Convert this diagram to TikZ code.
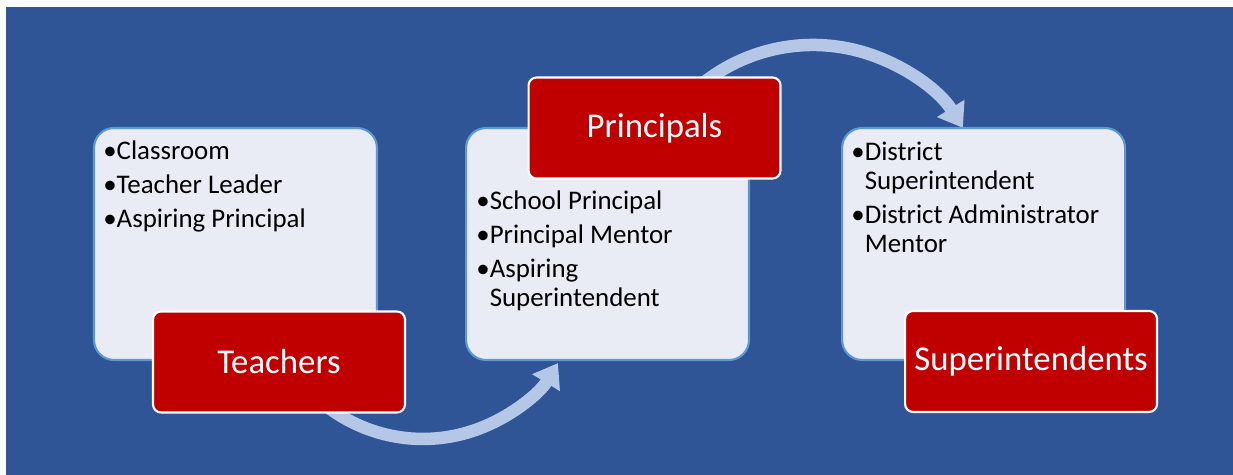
\documentclass[tikz,border=0pt]{standalone}
\usepackage{fontspec}
\setmainfont{Carlito}
\usetikzlibrary{arrows.meta,positioning}
\definecolor{bgblue}{RGB}{47,85,151}
\definecolor{boxfill}{RGB}{233,235,245}
\definecolor{boxline}{RGB}{91,155,213}
\definecolor{tagred}{RGB}{192,0,0}
\definecolor{flowblue}{RGB}{180,199,231}

\begin{document}
\begin{tikzpicture}[x=0.02cm, y=0.02cm, >={Triangle[width=0.62cm 0, length=0.46cm 0]}]
    \tikzset{stage/.style={
      draw=boxline,
      fill=boxfill,
      line width=1.2pt,
      rounded corners=0.4cm,
      minimum width=5.66cm,
      minimum height=4.64cm
    }};
    \tikzset{tag/.style={
      draw=white,
      fill=tagred,
      line width=1.2pt,
      rounded corners=0.16cm,
      text=white,
      font=\fontsize{19.8}{23}\selectfont,
      minimum width=5.04cm,
      minimum height=2.02cm
    }};
    \tikzset{list/.style={
      align=left,
      inner sep=0pt,
      font=\fontsize{15.3}{16.5}\selectfont
    }};
    \tikzset{flow/.style={
      draw=flowblue,
      line width=0.25cm,
      ->
    }};

    \useasboundingbox (0,0) rectangle (1233,475);
    \fill[bgblue] (6,0) rectangle (1233,468);

    \coordinate (lowstart) at (321.4,73);
    \coordinate (highstart) at (687.8,378.2);
    \draw[flow] (lowstart) arc[start angle=230, end angle=328.7, radius=158];
    \draw[flow] (highstart) arc[start angle=135, end angle=32.1, radius=177];

    \node [stage] (teachbox) at (235.5,231) {};
    \node [stage, right=1.74cm of teachbox] (princbox) {};
    \node [stage, right=1.82cm of princbox] (supbox) {};

    \node [tag] (teach) at ([xshift=0.87cm, yshift=-2.36cm]teachbox.center) {Teachers};
    \node [tag] (princ) at ([xshift=0.94cm, yshift=2.32cm]princbox.center) {Principals};
    \node [tag] (sup) at ([xshift=0.95cm, yshift=-2.35cm]supbox.center) {Superintendents};

    \node [list, below right=0.28cm and 0.2cm of teachbox.north west] (teachlist)
      {•Classroom\\[2.8pt]•Teacher Leader\\[2.8pt]•Aspiring Principal};
    \node [list, below right=1.27cm and 0.22cm of princbox.north west] (princlist)
      {•School Principal\\[2.8pt]•Principal Mentor\\[2.8pt]•Aspiring\\\phantom{•}Superintendent};
    \node [list, below right=0.29cm and 0.2cm of supbox.north west] (suplist)
      {•District\\\phantom{•}Superintendent\\[2.8pt]•District Administrator\\\phantom{•}Mentor};
  \end{tikzpicture}
\end{document}
